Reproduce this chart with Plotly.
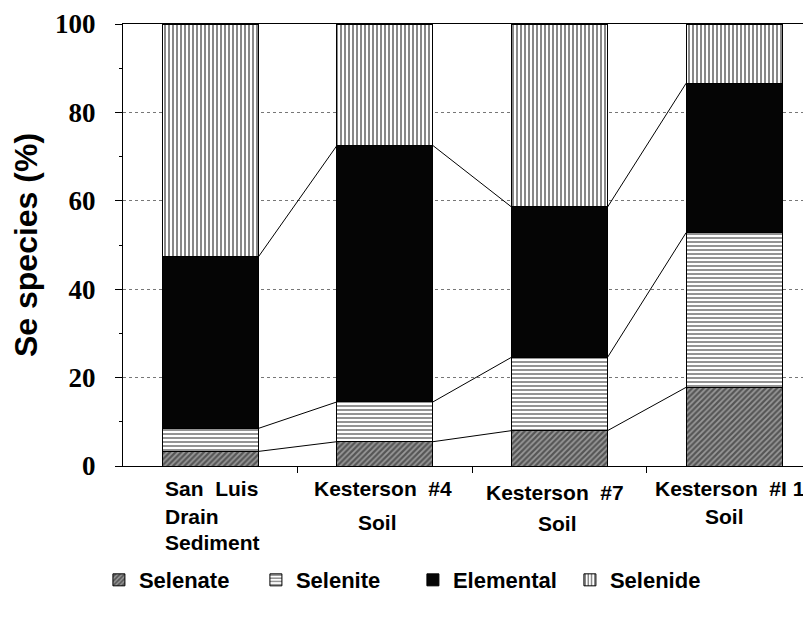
import plotly.graph_objects as go

categories = ["San Luis Drain Sediment", "Kesterson #4 Soil", "Kesterson #7 Soil", "Kesterson #11 Soil"]
selenate = [3.3, 5.5, 8.0, 17.8]
selenite = [5.2, 9.0, 16.6, 35.0]
elemental = [38.8, 58.0, 34.0, 33.8]
selenide = [52.7, 27.5, 41.4, 13.4]
yticks = [0, 20, 40, 60, 80, 100]

series = [
    ("Selenate", selenate, dict(color="white", pattern=dict(shape="/", size=4, solidity=0.55, fgcolor="#111", bgcolor="#999"))),
    ("Selenite", selenite, dict(color="white", pattern=dict(shape="-", size=4, solidity=0.45, fgcolor="#111", bgcolor="white"))),
    ("Elemental", elemental, dict(color="#050505")),
    ("Selenide", selenide, dict(color="white", pattern=dict(shape="|", size=4, solidity=0.5, fgcolor="#111", bgcolor="white"))),
]

xs = list(range(len(categories)))
bw = 0.55
fig = go.Figure()
for name, vals, mk in series:
    mk = dict(mk)
    mk["line"] = dict(color="black", width=1)
    fig.add_trace(go.Bar(x=xs, y=vals, name=name, width=bw, marker=mk))

# connecting lines between segment tops
cum = [0] * len(categories)
for name, vals, mk in series[:3]:
    cum = [c + v for c, v in zip(cum, vals)]
    lx, ly = [], []
    for i in range(len(categories) - 1):
        lx += [i + bw / 2, i + 1 - bw / 2, None]
        ly += [cum[i], cum[i + 1], None]
    fig.add_trace(go.Scatter(x=lx, y=ly, mode="lines", line=dict(color="black", width=1),
                             showlegend=False, hoverinfo="skip"))

lab_font = dict(family="Liberation Sans, Arial", size=21, color="black", weight="bold")
labels = [
    ("San  Luis", -0.271, -0.050, "left"),
    ("Drain", -0.271, -0.115, "left"),
    ("Sediment", -0.271, -0.172, "left"),
    ("Kesterson  #4", 0.989, -0.050, "center"),
    ("Soil", 0.955, -0.127, "center"),
    ("Kesterson  #7", 1.974, -0.059, "center"),
    ("Soil", 1.986, -0.129, "center"),
    ("Kesterson  #I 1", 2.977, -0.050, "center"),
    ("Soil", 2.942, -0.115, "center"),
]
for t, x, y, xa in labels:
    fig.add_annotation(x=x, y=y, xref="x", yref="paper", text=t, showarrow=False,
                       xanchor=xa, yanchor="middle", font=lab_font)

fig.update_layout(
    width=811, height=621,
    margin=dict(l=115, r=8, t=16, b=163),
    plot_bgcolor="white", paper_bgcolor="white",
    barmode="stack",
    showlegend=True,
    legend=dict(orientation="h", x=-0.035, y=-0.258, xanchor="left", yanchor="middle",
                font=dict(family="Liberation Sans, Arial", size=22, color="black", weight="bold"),
                traceorder="normal", itemwidth=30, entrywidth=112),
    yaxis=dict(
        title=dict(text="Se species (%)", font=dict(family="Liberation Sans, Arial", size=32, color="black", weight="bold"), standoff=21),
        range=[0, 100], tickvals=yticks, ticktext=[str(v) for v in yticks],
        tickfont=dict(family="Liberation Serif, Times New Roman", size=27, color="black", weight="bold"),
        ticks="outside", ticklen=7, tickcolor="black",
        minor=dict(ticks="outside", ticklen=3, tick0=10, dtick=20, tickcolor="black", showgrid=False),
        showline=True, linecolor="black", linewidth=1, mirror=False,
        showgrid=True, gridcolor="#777", griddash="dot", gridwidth=1, zeroline=False,
        ticklabelstandoff=14, automargin=False,
    ),
    xaxis=dict(
        range=[-0.5, 3.44], tickvals=[0.5, 1.5, 2.5], ticktext=["", "", ""],
        ticks="outside", ticklen=6, tickcolor="black",
        showline=True, linecolor="black", linewidth=1, mirror=True,
        showgrid=False, zeroline=False, automargin=False,
    ),
)

fig.write_html("out.html")
